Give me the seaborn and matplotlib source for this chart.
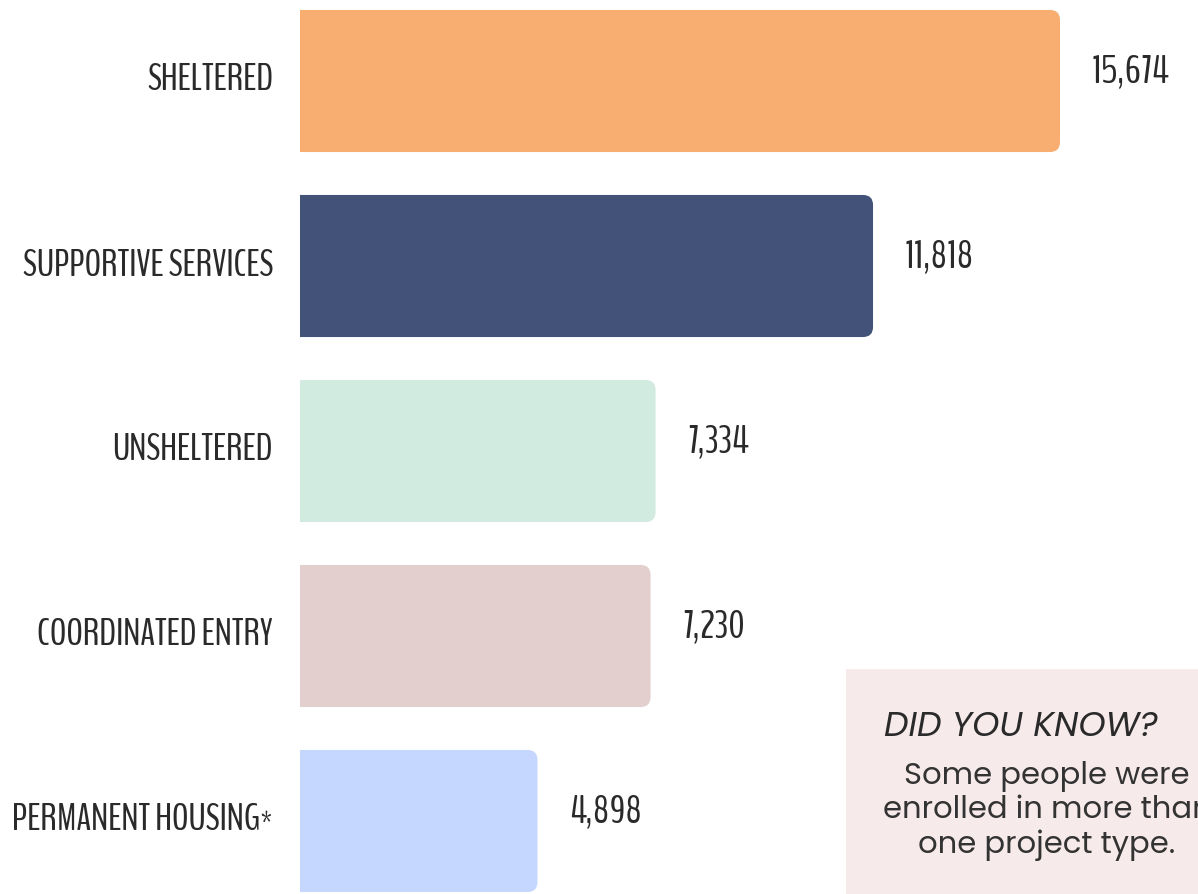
import matplotlib
matplotlib.use("Agg")
import matplotlib.pyplot as plt
import matplotlib.transforms as mtrans
import seaborn as sns
import pandas as pd
from matplotlib.patches import FancyBboxPatch, Rectangle

categories = ["SHELTERED", "SUPPORTIVE SERVICES", "UNSHELTERED",
              "COORDINATED ENTRY", "PERMANENT HOUSING*"]
values = [15674, 11818, 7334, 7230, 4898]
colors = ["#F7AE70", "#425278", "#D2EBE0", "#E4CFCF", "#C5D7FE"]
note_title = "DID YOU KNOW?"
note_body = "Some people were\nenrolled in more than\none project type."

LABEL_FONT = ["BenchNine", "Bebas Neue", "DejaVu Sans"]
NOTE_FONT = ["Poppins", "Montserrat Alternates", "DejaVu Sans"]

sns.set_theme(style="white")
plt.rcParams["font.family"] = LABEL_FONT

W, H = 1198, 895
fig = plt.figure(figsize=(W / 100, H / 100), dpi=100)
ax_left = 300 / W
ax = fig.add_axes([ax_left, 0, 1 - ax_left, 1])

df = pd.DataFrame({"category": categories, "value": values})
sns.barplot(data=df, x="value", y="category", hue="category",
            palette=colors, saturation=1, orient="h", width=0.768,
            legend=False, ax=ax)

px_per_unit = 760 / values[0]
ax.set_xlim(0, (W - 300) / px_per_unit)
pitch = 185
ax.set_ylim((H - 82) / pitch, -82 / pitch)

# rounded bars (left corners clipped by the axes edge)
r_units = 10 / px_per_unit
aspect = (1 / pitch) / (1 / px_per_unit)
for p in list(ax.patches):
    x0, y0 = p.get_x(), p.get_y()
    w, h = p.get_width(), p.get_height()
    fc = p.get_facecolor()
    p.set_visible(False)
    fb = FancyBboxPatch((x0 - 3 * r_units, y0), w + 3 * r_units, h,
                        boxstyle=f"round,pad=0,rounding_size={r_units}",
                        mutation_aspect=aspect, facecolor=fc,
                        edgecolor="none", clip_on=True, zorder=2)
    ax.add_patch(fb)

off = 32 / px_per_unit
for i, v in enumerate(values):
    ax.text(v + off, i - 0.055, f"{v:,}", ha="left", va="center",
            fontsize=29, color="#2a2a2a", family=LABEL_FONT)

ax.set_xlabel("")
ax.set_ylabel("")
ax.set_xticks([])
ax.tick_params(axis="y", length=0, pad=19.5)
ax.set_yticks(range(len(categories)))
ax.set_yticklabels(categories, fontsize=27, color="#2a2a2a",
                   family=LABEL_FONT)
shift = mtrans.ScaledTranslation(0, 5 / 100, fig.dpi_scale_trans)
for lbl in ax.get_yticklabels():
    lbl.set_transform(lbl.get_transform() + shift)
for s in ax.spines.values():
    s.set_visible(False)

# note box
fig.patches.append(Rectangle((846 / W, 0), 1, (H - 670) / H,
                             transform=fig.transFigure, facecolor="#F7EAEB",
                             edgecolor="none", zorder=0))
fig.text(884 / W, (H - 728) / H, note_title, ha="left", va="center",
         fontsize=25, style="italic", color="#2a2a2a", family=NOTE_FONT)
fig.text(1047 / W, (H - 811) / H, note_body, ha="center", va="center",
         fontsize=22, color="#333333", linespacing=1.12,
         multialignment="center", family=NOTE_FONT)

fig.savefig("out.png", dpi=100)
